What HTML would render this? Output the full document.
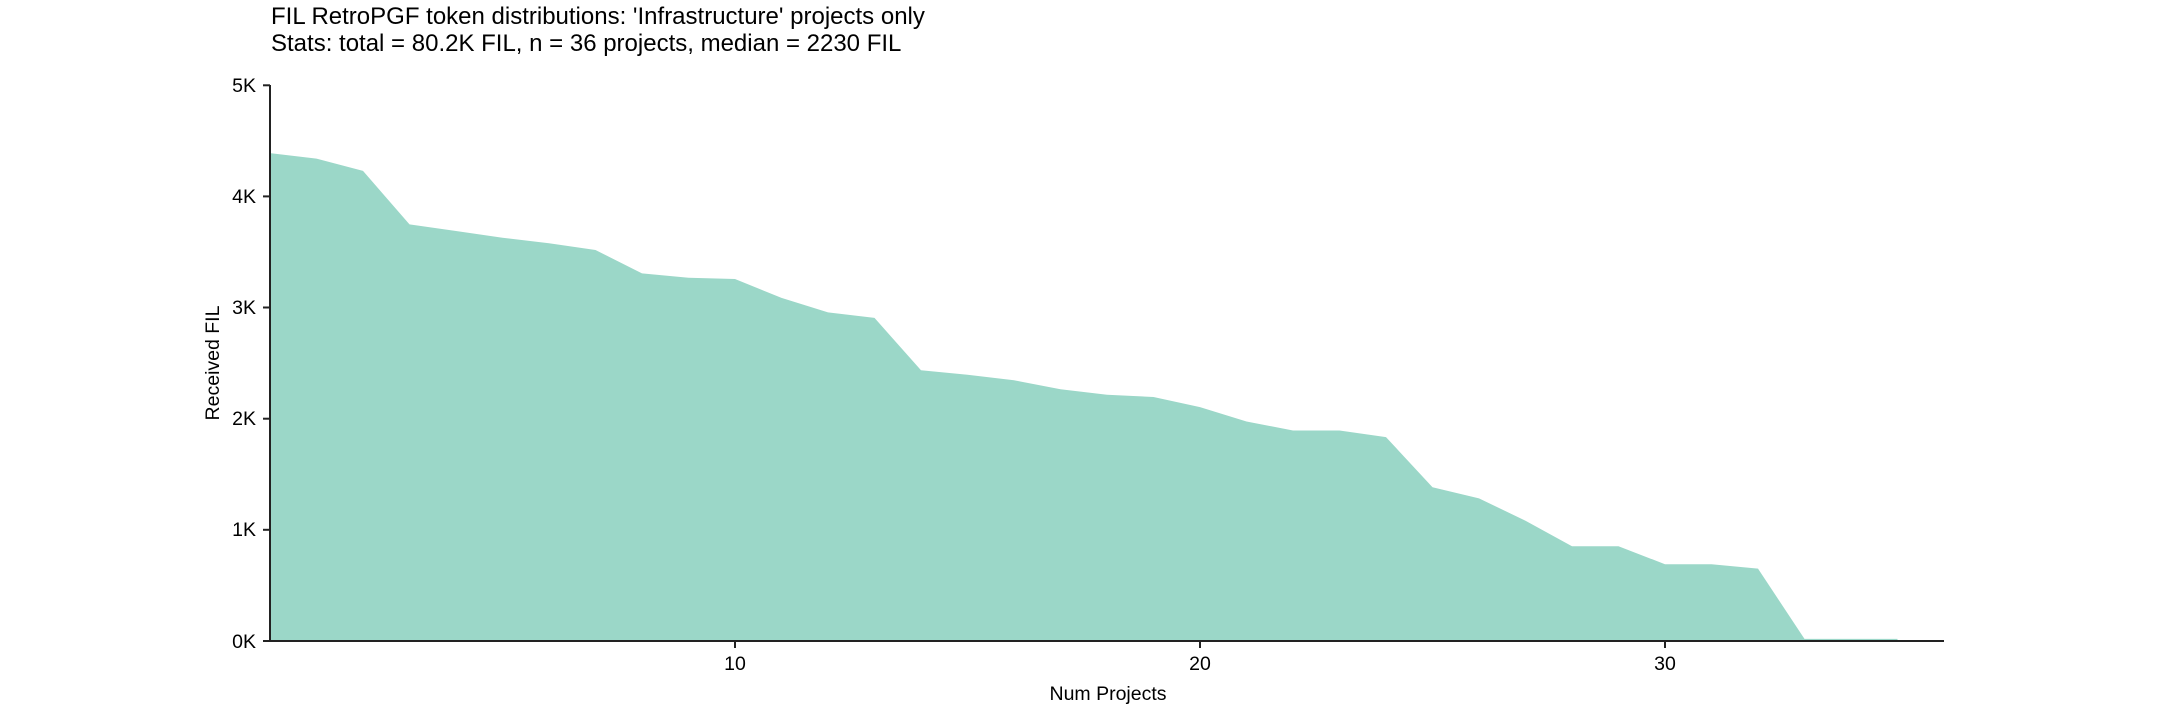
<!DOCTYPE html>
<html><head><meta charset="utf-8"><style>
html,body{margin:0;padding:0;background:#fff;}
svg text{font-family:"Liberation Sans",sans-serif;fill:#000;}
</style></head><body>
<svg width="2160" height="720" viewBox="0 0 2160 720" xmlns="http://www.w3.org/2000/svg">
<text x="271" y="24" font-size="24">FIL RetroPGF token distributions: 'Infrastructure' projects only</text>
<text x="271" y="51" font-size="24">Stats: total = 80.2K FIL, n = 36 projects, median = 2230 FIL</text>
<polygon fill="#9bd7c8" transform="translate(0,-1.5)" points="270,154.6 316.5,160.1 363,172.4 409.5,225.9 456,232.5 502.5,239.2 549,244.8 595.5,251.5 642,274.9 688.5,279.3 735,280.5 781.5,299.4 828,313.9 874.5,319.4 921,371.8 967.5,376.3 1014,381.8 1060.5,390.7 1107,396.3 1153.5,398.5 1200,408.6 1246.5,423 1293,432 1339.5,432 1386,438.6 1432.5,488.8 1479,499.9 1525.5,522.2 1572,547.8 1618.5,547.8 1665,565.7 1711.5,565.7 1758,570.1 1804.5,640.4 1851,640.4 1897.5,640.4 1897.5,642.5 270,642.5"/>
<g stroke="#222" stroke-width="2" fill="none">
<line x1="270" y1="85" x2="270" y2="641"/>
<line x1="269" y1="641" x2="1944" y2="641"/>
<line x1="263" y1="85.3" x2="270" y2="85.3"/>
<line x1="263" y1="196.4" x2="270" y2="196.4"/>
<line x1="263" y1="307.5" x2="270" y2="307.5"/>
<line x1="263" y1="418.7" x2="270" y2="418.7"/>
<line x1="263" y1="529.8" x2="270" y2="529.8"/>
<line x1="263" y1="641" x2="270" y2="641"/>
<line x1="735" y1="641" x2="735" y2="648"/>
<line x1="1200" y1="641" x2="1200" y2="648"/>
<line x1="1665" y1="641" x2="1665" y2="648"/>
</g>
<g font-size="19.5" text-anchor="end">
<text x="256" y="92">5K</text>
<text x="256" y="203">4K</text>
<text x="256" y="314">3K</text>
<text x="256" y="425">2K</text>
<text x="256" y="536">1K</text>
<text x="256" y="648">0K</text>
</g>
<g font-size="19.5" text-anchor="middle">
<text x="735" y="670">10</text>
<text x="1200" y="670">20</text>
<text x="1665" y="670">30</text>
<text x="1108" y="700">Num Projects</text>
<text transform="translate(219,363) rotate(-90)">Received FIL</text>
</g>
</svg>
</body></html>
